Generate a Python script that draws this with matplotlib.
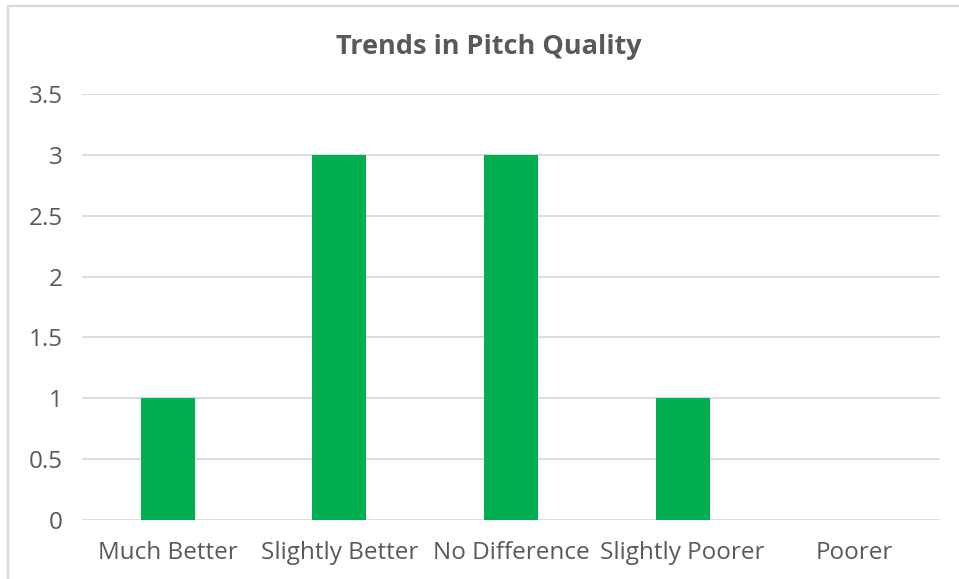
import matplotlib

matplotlib.use("Agg")
import matplotlib.pyplot as plt
from matplotlib.patches import Rectangle

plt.rcParams["font.family"] = ["Open Sans", "DejaVu Sans"]

categories = ["Much Better", "Slightly Better", "No Difference", "Slightly Poorer", "Poorer"]
counts = [1, 3, 3, 1, 0]
yticks = [0, 0.5, 1, 1.5, 2, 2.5, 3, 3.5]
ytick_labels = ["0", "0.5", "1", "1.5", "2", "2.5", "3", "3.5"]

W, H = 959, 579
fig = plt.figure(figsize=(W / 100, H / 100), dpi=100)

# chart frame: only left and top edges show in the crop
fig.patches.append(
    Rectangle((8 / W, -0.1), 1.2, 1.1 - 6 / H, transform=fig.transFigure,
              fill=False, edgecolor="#d9d9d9", linewidth=1.6)
)

ax = fig.add_axes([82 / W, 1 - 520 / H, (940 - 82) / W, (520 - 94) / H])
x = range(len(categories))
ax.bar(x, counts, width=0.315, color="#00b050", zorder=3)
ax.set_xlim(-0.5, len(categories) - 0.5)
ax.set_ylim(0, 3.5)
ax.set_yticks(yticks)
ax.set_yticklabels(ytick_labels)
ax.set_xticks(list(x))
ax.set_xticklabels(categories)
ax.grid(axis="y", color="#d9d9d9", linewidth=1.3, zorder=0)
for s in ax.spines.values():
    s.set_visible(False)
ax.tick_params(axis="both", length=0, colors="#595959", labelsize=17.5)
ax.tick_params(axis="y", pad=14)
ax.tick_params(axis="x", pad=15)

fig.text(489 / W, 1 - 47 / H, "Trends in Pitch Quality", ha="center", va="center",
         fontsize=19.5, fontweight="bold", color="#595959")

fig.savefig("out.png", dpi=100)
